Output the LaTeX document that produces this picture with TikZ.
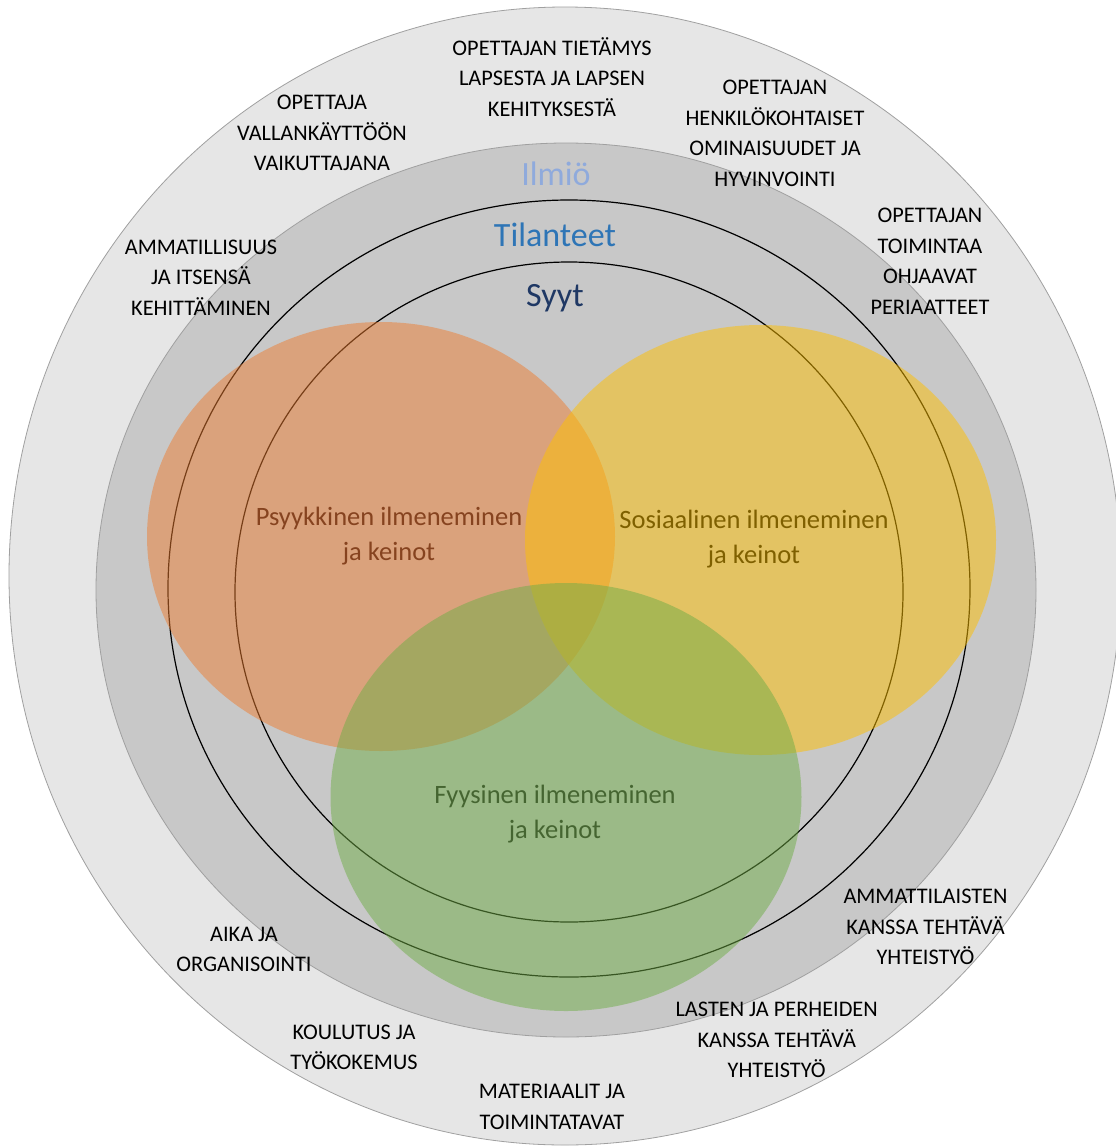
\documentclass[tikz,border=0pt]{standalone}
\usepackage{fontspec}
\setmainfont{Carlito}
\definecolor{lgray}{HTML}{E6E6E6}
\definecolor{mgray}{HTML}{C8C8C8}
\definecolor{edgegray}{HTML}{A0A0A0}
\definecolor{oorange}{HTML}{ED7D31}
\definecolor{oyellow}{HTML}{FFC000}
\definecolor{ogreen}{HTML}{70AD47}
\definecolor{ilmio}{HTML}{8FAADC}
\definecolor{tilan}{HTML}{2E75B6}
\definecolor{syyt}{HTML}{1F3864}
\definecolor{psyk}{HTML}{86431F}
\definecolor{sosi}{HTML}{7F6000}
\definecolor{fyys}{HTML}{456531}
\begin{document}
\begin{tikzpicture}[x=1pt,y=-1pt,
  outerlbl/.style={font=\fontsize{22.3}{30.6}\selectfont, align=center, inner sep=0pt, text=black},
  vennlbl/.style={font=\fontsize{26.5}{35}\selectfont, align=center, inner sep=0pt},
  layerlbl/.style={font=\fontsize{34}{40}\selectfont, anchor=base, inner sep=0pt},
  ring/.style={draw=black, line width=1.2pt},
  venn/.style={fill opacity=0.5}]
\useasboundingbox (0,0) rectangle (1116,1146);
\clip (0,0) rectangle (1116,1146);
\fill[white] (0,0) rectangle (1116,1146);
% outer and middle discs
\filldraw[fill=lgray, draw=edgegray, line width=0.8pt] (565,576) ellipse [x radius=556, y radius=569];
\filldraw[fill=mgray, draw=edgegray, line width=0.8pt] (566,590) ellipse [x radius=470, y radius=447];
% black rings
\draw[ring] (569,588.5) ellipse [x radius=401, y radius=388.5];
\draw[ring] (569,592) ellipse [x radius=334, y radius=330];
% Venn ellipses
\fill[oorange, venn] (381,536.5) ellipse [x radius=234, y radius=214.5];
\fill[oyellow, venn] (760.5,540) ellipse [x radius=235.5, y radius=215];
\fill[ogreen, venn] (566,797) ellipse [x radius=235.5, y radius=214];
% layer labels
\node[layerlbl, text=ilmio] (ilmio) at (556,185) {Ilmiö};
\node[layerlbl, text=tilan] (tilanteet) at (555,246.7) {Tilanteet};
\node[layerlbl, text=syyt] (syyt) at (555,306.7) {Syyt};
% Venn labels
\node[vennlbl, text=psyk] (psyk) at (389,535.5) {\strut Psyykkinen ilmeneminen\\\strut ja keinot};
\node[vennlbl, text=sosi] (sosi) at (754,538.8) {\strut Sosiaalinen ilmeneminen\\\strut ja keinot};
\node[vennlbl, text=fyys] (fyys) at (555,813.8) {\strut Fyysinen ilmeneminen\\\strut ja keinot};
% outer labels
\node[outerlbl] (l1) at (552,79.5) {\strut OPETTAJAN TIETÄMYS\\\strut LAPSESTA JA LAPSEN\\\strut KEHITYKSESTÄ};
\node[outerlbl] (l2) at (322,134) {\strut OPETTAJA\\\strut VALLANKÄYTTÖÖN\\\strut VAIKUTTAJANA};
\node[outerlbl] (l3) at (775,134.3) {\strut OPETTAJAN\\\strut HENKILÖKOHTAISET\\\strut OMINAISUUDET JA\\\strut HYVINVOINTI};
\node[outerlbl] (l4) at (201,278.5) {\strut AMMATILLISUUS\\\strut JA ITSENSÄ\\\strut KEHITTÄMINEN};
\node[outerlbl] (l5) at (930,262.3) {\strut OPETTAJAN\\\strut TOIMINTAA\\\strut OHJAAVAT\\\strut PERIAATTEET};
\node[outerlbl] (l6) at (925.5,928) {\strut AMMATTILAISTEN\\\strut KANSSA TEHTÄVÄ\\\strut YHTEISTYÖ};
\node[outerlbl] (l7) at (244,950.2) {\strut AIKA JA\\\strut ORGANISOINTI};
\node[outerlbl] (l8) at (354,1048.2) {\strut KOULUTUS JA\\\strut TYÖKOKEMUS};
\node[outerlbl] (l9) at (776.7,1041.2) {\strut LASTEN JA PERHEIDEN\\\strut KANSSA TEHTÄVÄ\\\strut YHTEISTYÖ};
\node[outerlbl] (l10) at (552,1107.7) {\strut MATERIAALIT JA\\\strut TOIMINTATAVAT};
\end{tikzpicture}
\end{document}
